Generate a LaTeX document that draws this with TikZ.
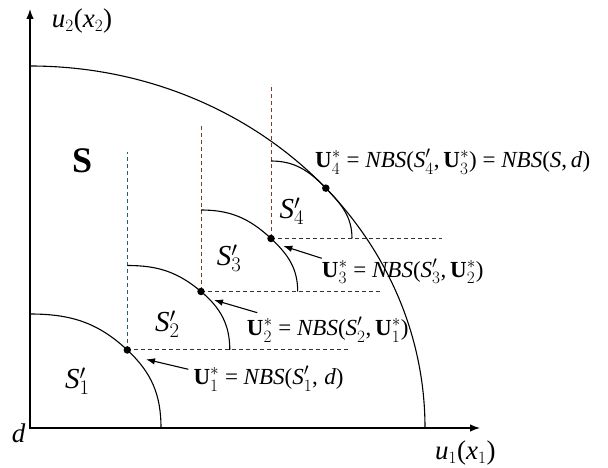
\documentclass[tikz,border=0pt]{standalone}
\usepackage{fontspec}
\setmainfont{Liberation Serif}
\usetikzlibrary{arrows.meta,calc}
\newcommand\Us[1]{\textbf{U}$^{*}_{#1}$}
\newcommand\Sp[1]{\textit{S}$'_{#1}$}
\definecolor{guideteal}{HTML}{2A5E6C}
\definecolor{guidebrown}{HTML}{7A3E30}
\begin{document}
\begin{tikzpicture}[x=1pt,y=1pt,
  curve/.style={line width=1.1pt},
  axis/.style={line width=1.3pt},
  guide/.style={dash pattern=on 4pt off 3pt, line width=1pt},
  pointer/.style={line width=1.1pt,-{Latex[length=9pt,width=6.5pt]}},
  dotm/.style={circle,fill,inner sep=0pt,minimum size=7.5pt},
  lbl/.style={anchor=base west,inner sep=0pt,font=\fontsize{23}{27}\selectfont},
  reg/.style={anchor=base west,inner sep=0pt,font=\fontsize{29}{33}\selectfont},
  axlbl/.style={anchor=base west,inner sep=0pt,font=\fontsize{27}{31}\selectfont},
]
\useasboundingbox (0,0) rectangle (608,468);
% axes
\coordinate (O) at (30,40);
\coordinate (ytip) at (30,459);
\coordinate (xtip) at (480,40);
\draw[axis,{Latex[length=10pt,width=7.5pt]}-{Latex[length=10pt,width=7.5pt]}] (ytip) -- (O) -- (xtip);
% outer frontier
\coordinate (bigtop) at (30,402);
\draw[curve] (bigtop) arc[start angle=90,end angle=0,x radius=395,y radius=362];
% points
\coordinate (U1) at (127.3,118);
\coordinate (U2) at (201,176.5);
\coordinate (U3) at (271,229.5);
\coordinate (U4) at ($(O)+({395*cos(41.5)},{362*sin(41.5)})$);
% arc ends
\coordinate (T1) at (30,154);
\coordinate (E1) at (161,40);
\coordinate (T2) at ($(U1)+(0,84.5)$);
\coordinate (E2) at ($(U1)+(102.5,0)$);
\coordinate (T3) at ($(U2)+(0,81.5)$);
\coordinate (E3) at ($(U2)+(96.7,0)$);
\coordinate (T4) at ($(U3)+(0,77.5)$);
\coordinate (E4) at ($(U3)+(81,0)$);
% guides
\coordinate (V1) at ($(U1)+(0,198)$);
\coordinate (V2) at ($(U2)+(0,166)$);
\coordinate (V3) at ($(U3)+(0,154)$);
\coordinate (H1) at ($(U1)+(223,0)$);
\coordinate (H2) at ($(U2)+(181,0)$);
\coordinate (H3) at ($(U3)+(171,0)$);
\draw[guide,guideteal] (U1) -- (V1);
\draw[guide,guidebrown] (U2) -- (V2);
\draw[guide,guidebrown] (U3) -- (V3);
\draw[guide,black!80] (U1) -- (H1);
\draw[guide,black!80] (U2) -- (H2);
\draw[guide,black!80] (U3) -- (H3);
% sub-frontiers
\draw[curve] (T1) to[out=0,in=137] (U1) to[out=-43,in=90] (E1);
\draw[curve] (T2) to[out=0,in=140] (U2) to[out=-40,in=90] (E2);
\draw[curve] (T3) to[out=0,in=137] (U3) to[out=-43,in=90] (E3);
\draw[curve] (T4) to[out=0,in=134] (U4) to[out=-46,in=90] (E4);
% dots
\node[dotm] (D1) at (U1) {};
\node[dotm] (D2) at (U2) {};
\node[dotm] (D3) at (U3) {};
\node[dotm] (D4) at (U4) {};
% labels
\node[lbl] (L4) at (315,300) {\Us4 = \textit{NBS}(\Sp4,\,\Us3) = \textit{NBS}(\textit{S},\,\textit{d})};
\node[lbl] (L3) at (321.7,190.5) {\Us3 = \textit{NBS}(\Sp3,\,\Us2)};
\node[lbl] (L2) at (246.7,132) {\Us2 = \textit{NBS}(\Sp2,\,\Us1)};
\node[lbl] (L1) at (193.3,83) {\Us1 = \textit{NBS}(\Sp1,\;\textit{d})};
% pointers
\coordinate (A1t) at (188.3,98.7);
\coordinate (A1h) at (146,108.7);
\coordinate (A2t) at (257.3,155.3);
\coordinate (A2h) at (214,168);
\coordinate (A3t) at (321.7,209.7);
\coordinate (A3h) at (283.3,222);
\draw[pointer] (A1t) -- (A1h);
\draw[pointer] (A2t) -- (A2h);
\draw[pointer] (A3t) -- (A3h);
% region labels
\node[reg] (R1) at (65,79.7) {\Sp1};
\node[reg] (R2) at (155,136.3) {\Sp2};
\node[reg] (R3) at (216.7,202.3) {\Sp3};
\node[reg] (R4) at (279.3,249.7) {\Sp4};
\node[anchor=base west,inner sep=0pt,font=\fontsize{36}{40}\selectfont\bfseries] (S) at (72,295) {S};
% axis labels
\node[axlbl] (yl) at (51.7,440) {\textit{u}$_2$(\textit{x}$_2$)};
\node[axlbl] (xl) at (435,8) {\textit{u}$_1$(\textit{x}$_1$)};
\node[axlbl] (dl) at (11.7,25) {\textit{d}};
\end{tikzpicture}
\end{document}
